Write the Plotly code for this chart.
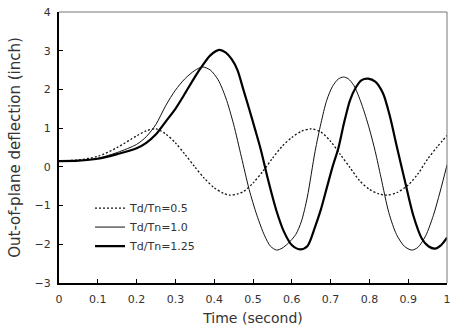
import plotly.graph_objects as go

# Td/Tn = 0.5 (dotted)
t_05 = [0.00, 0.05, 0.10, 0.15, 0.20, 0.225, 0.25, 0.275, 0.30, 0.325, 0.35, 0.375, 0.40, 0.425, 0.44, 0.46,
        0.475, 0.50, 0.525, 0.55, 0.575, 0.60, 0.625, 0.65, 0.675, 0.70, 0.725, 0.75, 0.775, 0.80, 0.825,
        0.845, 0.87, 0.90, 0.925, 0.95, 0.975, 1.00]
y_05 = [0.15, 0.18, 0.27, 0.50, 0.80, 0.93, 0.98, 0.85, 0.62, 0.32, 0.00, -0.30, -0.54, -0.69, -0.73, -0.70,
        -0.64, -0.42, -0.12, 0.22, 0.53, 0.76, 0.92, 0.98, 0.90, 0.66, 0.32, -0.02, -0.36, -0.58, -0.70,
        -0.73, -0.67, -0.47, -0.18, 0.20, 0.52, 0.81]

# Td/Tn = 1.0 (thin solid)
t_10 = [0.00, 0.05, 0.10, 0.15, 0.20, 0.225, 0.25, 0.275, 0.30, 0.325, 0.35, 0.37, 0.39, 0.41, 0.43, 0.45,
        0.47, 0.49, 0.51, 0.53, 0.545, 0.561, 0.575, 0.59, 0.61, 0.625, 0.64, 0.66, 0.675, 0.69, 0.705,
        0.72, 0.733, 0.745, 0.76, 0.78, 0.80, 0.815, 0.83, 0.85, 0.87, 0.89, 0.909, 0.925, 0.945, 0.965,
        0.982, 1.00]
y_10 = [0.15, 0.16, 0.22, 0.37, 0.58, 0.78, 1.10, 1.58, 1.98, 2.28, 2.49, 2.58, 2.50, 2.25, 1.78, 1.10,
        0.26, -0.58, -1.25, -1.78, -2.05, -2.15, -2.10, -1.98, -1.75, -1.40, -0.78, 0.40, 1.12, 1.72, 2.08,
        2.27, 2.32, 2.28, 2.10, 1.62, 0.98, 0.40, -0.28, -1.18, -1.75, -2.05, -2.15, -2.08, -1.78, -1.25,
        -0.65, 0.05]

# Td/Tn = 1.25 (thick solid)
t_125 = [0.00, 0.05, 0.10, 0.15, 0.20, 0.225, 0.25, 0.275, 0.30, 0.325, 0.35, 0.37, 0.39, 0.413, 0.43,
         0.445, 0.46, 0.475, 0.49, 0.505, 0.52, 0.54, 0.56, 0.58, 0.60, 0.621, 0.64, 0.66, 0.675, 0.69,
         0.705, 0.72, 0.735, 0.75, 0.765, 0.78, 0.797, 0.815, 0.835, 0.853, 0.87, 0.89, 0.913, 0.935,
         0.952, 0.969, 0.985, 1.00]
y_125 = [0.15, 0.16, 0.21, 0.33, 0.48, 0.62, 0.84, 1.17, 1.50, 1.90, 2.32, 2.62, 2.88, 3.02, 2.95,
         2.78, 2.50, 2.00, 1.50, 0.98, 0.45, -0.38, -1.12, -1.68, -2.02, -2.13, -2.05, -1.55, -1.10, -0.55,
         0.00, 0.48, 1.15, 1.72, 2.05, 2.24, 2.28, 2.20, 1.90, 1.30, 0.55, -0.30, -1.25, -1.85,
         -2.05, -2.11, -2.02, -1.83]

x_ticks = [0, 0.1, 0.2, 0.3, 0.4, 0.5, 0.6, 0.7, 0.8, 0.9, 1]
x_labels = ["0", "0.1", "0.2", "0.3", "0.4", "0.5", "0.6", "0.7", "0.8", "0.9", "1"]
y_ticks = [-3, -2, -1, 0, 1, 2, 3, 4]

FONT = "DejaVu Sans, sans-serif"

fig = go.Figure()
fig.add_trace(go.Scatter(x=t_05, y=y_05, mode="lines", name="Td/Tn=0.5",
                         line=dict(color="#111", width=1.3, dash="2px,2px", shape="spline", smoothing=0.8)))
fig.add_trace(go.Scatter(x=t_10, y=y_10, mode="lines", name="Td/Tn=1.0",
                         line=dict(color="#111", width=1, shape="spline", smoothing=0.8)))
fig.add_trace(go.Scatter(x=t_125, y=y_125, mode="lines", name="Td/Tn=1.25",
                         line=dict(color="#000", width=2.2, shape="spline", smoothing=0.8)))

fig.add_shape(type="line", xref="paper", yref="paper", x0=0, x1=1, y0=1, y1=1,
              line=dict(color="#777", width=1))
fig.add_shape(type="line", xref="paper", yref="paper", x0=1, x1=1, y0=0, y1=1,
              line=dict(color="#777", width=1))

fig.update_layout(
    width=452, height=327,
    margin=dict(l=59, r=5, t=12, b=44),
    paper_bgcolor="white", plot_bgcolor="white",
    font=dict(family=FONT, size=11, color="#333"),
    showlegend=True,
    legend=dict(x=0.08, y=0.33, xanchor="left", yanchor="top",
                bgcolor="rgba(0,0,0,0)", font=dict(size=11, color="#333"),
                tracegroupgap=0, itemwidth=30),
    xaxis=dict(range=[0, 1], tickvals=x_ticks, ticktext=x_labels, ticks="inside", ticklen=4,
               tickcolor="#000", showgrid=False, zeroline=False, showline=True, linecolor="#000",
               linewidth=2, automargin=False, ticklabelstandoff=5,
               title=dict(text="Time (second)", font=dict(size=14), standoff=8)),
    yaxis=dict(range=[-3, 4], tickvals=y_ticks, ticks="inside", ticklen=4, tickcolor="#000",
               showgrid=False, zeroline=False, showline=True, linecolor="#000", linewidth=2,
               automargin=False, ticklabelstandoff=4,
               title=dict(text="Out-of-plane deflection (inch)", font=dict(size=15), standoff=10)),
)

fig.write_html("out.html", config={"displayModeBar": False},
               post_script="document.body.style.margin='0';document.documentElement.style.overflow='hidden';")
